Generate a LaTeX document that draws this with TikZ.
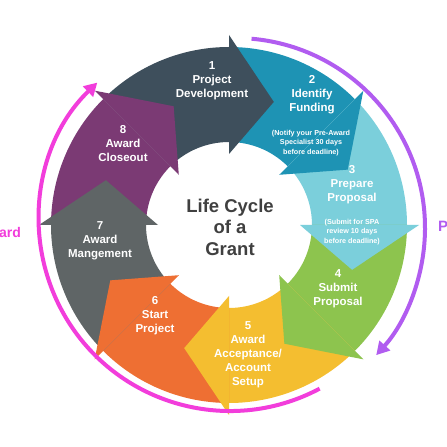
\documentclass[tikz,border=0pt]{standalone}
\usepackage{fontspec}
\setmainfont{Liberation Sans}
\usetikzlibrary{arrows.meta,calc}
\definecolor{cA}{HTML}{3E4F5C}
\definecolor{cB}{HTML}{1E93B4}
\definecolor{cC}{HTML}{7BCFDB}
\definecolor{cD}{HTML}{8DC44E}
\definecolor{cE}{HTML}{F4BE30}
\definecolor{cF}{HTML}{EE6F33}
\definecolor{cG}{HTML}{5F6566}
\definecolor{cH}{HTML}{7B3A74}
\definecolor{magline}{HTML}{F23DDB}
\definecolor{vioine}{HTML}{B15CF0}
\definecolor{centertext}{HTML}{404040}
\begin{document}
\begin{tikzpicture}[x=1pt,y=1pt,
  lbl/.style={text=white,font=\bfseries\fontsize{11.5}{14}\selectfont,align=center,inner sep=0pt},
  smalltxt/.style={text=white,font=\bfseries\fontsize{7.2}{9.4}\selectfont,align=center,inner sep=0pt},
  arcline/.style={line width=4pt,-{Triangle[length=13pt,width=14pt]}}]
\useasboundingbox (0,0) rectangle (447,447);
\fill[white] (0,0) rectangle (447,447);
\begin{scope}[shift={(229,222)}]
  \foreach \c/\t in {cA/90,cB/45,cC/0,cD/-45,cE/-90,cF/-135,cG/-180,cH/-225}{
    \fill[\c] ({\t+45}:178) arc[start angle={\t+45}, end angle=\t, radius=178]
      -- (\t:83) arc[start angle=\t, end angle={\t+45}, radius=83] -- cycle;
  }
  \foreach \c/\t in {cA/90,cB/45,cC/0,cD/-45,cE/-90,cF/-135,cG/-180,cH/-225}{
    \fill[\c] (\t:190) -- ({\t-20}:131) -- (\t:71) -- cycle;
  }
\end{scope}
% outer arcs
\coordinate (vs) at ($(235,219)+(85:190)$);
\draw[arcline,draw=vioine] (vs) arc[start angle=85, end angle=-42, radius=190];
\coordinate (ms) at ($(230,227)+(-62:191)$);
\draw[arcline,draw=magline] (ms) arc[start angle=-62, end angle=-226, radius=191];
% labels
\node[lbl] (n1) at (212,366) {1\\Project\\Development};
\node[lbl] (n2) at (312,352) {2\\Identify\\Funding};
\node[smalltxt] (n2s) at (311,304) {(Notify your Pre-Award\\Specialist 30 days\\before deadline)};
\node[lbl] (n3) at (352,262) {3\\Prepare\\Proposal};
\node[smalltxt] (n3s) at (352,215) {(Submit for SPA\\review 10 days\\before deadline)};
\node[lbl] (n4) at (338,158) {4\\Submit\\Proposal};
\node[lbl] (n5) at (248,92) {5\\Award\\Acceptance/\\Account\\Setup};
\node[lbl] (n6) at (155,131) {6\\Start\\Project};
\node[lbl] (n7) at (100,206) {7\\Award\\Mangement};
\node[lbl] (n8) at (123,303) {8\\Award\\Closeout};
\node[text=centertext,font=\bfseries\fontsize{18.5}{21.5}\selectfont,align=center] (ctr) at (230,220) {Life Cycle\\of a\\Grant};
\node[text=magline,font=\bfseries\fontsize{14}{16}\selectfont,anchor=west,inner sep=0pt] (lft) at (-1,215) {ard};
\node[text=vioine,font=\bfseries\fontsize{15}{17}\selectfont,anchor=west,inner sep=0pt] (rgt) at (438,221) {P};
\end{tikzpicture}
\end{document}
